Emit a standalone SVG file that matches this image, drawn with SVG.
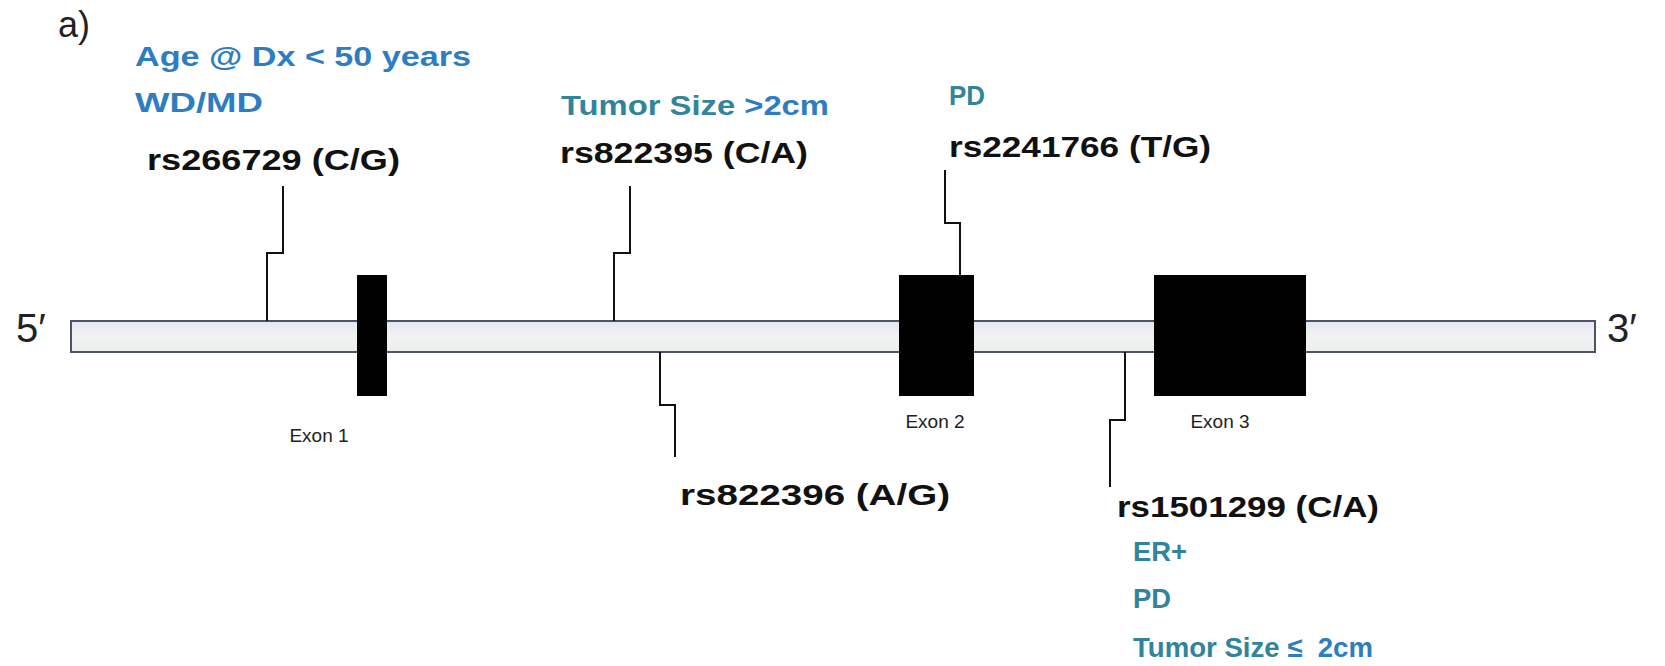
<svg xmlns="http://www.w3.org/2000/svg" width="1665" height="666" viewBox="0 0 1665 666">
<defs>
<linearGradient id="barGrad" x1="0" y1="0" x2="0" y2="1">
<stop offset="0" stop-color="#e3e7f5"/>
<stop offset="0.5" stop-color="#f2f2f2"/>
<stop offset="1" stop-color="#eceef0"/>
</linearGradient>
<style>
.snp{font-family:"Liberation Sans",Arial,sans-serif;font-weight:bold;font-size:30px;fill:#111}
.blue{font-family:"Liberation Sans",Arial,sans-serif;font-weight:bold;font-size:28px;fill:#2f7dc1}
.teal{font-family:"Liberation Sans",Arial,sans-serif;font-weight:bold;font-size:28px;fill:#31849b}
.exlab{font-family:"Liberation Sans",Arial,sans-serif;font-size:19px;fill:#222;text-anchor:middle}
.end{font-family:"Liberation Sans",Arial,sans-serif;font-size:40px;fill:#222}
.exon{fill:#000}
.conn{fill:none;stroke:#111;stroke-width:2}
</style>
</defs>
<rect width="1665" height="666" fill="#fff"/>
<text x="58" y="37" class="end" style="font-size:36px">a)</text>

<g id="backbone">
<rect x="71" y="321" width="1524" height="31" fill="url(#barGrad)" stroke="#4d5563" stroke-width="2"/>
<text x="16" y="342" class="end">5′</text>
<text x="1607" y="342" class="end">3′</text>
</g>

<g id="connectors">
<path class="conn" d="M267,321 V253 H283 V186"/>
<path class="conn" d="M614,321 V253 H630 V186"/>
<path class="conn" d="M960,275 V223 H945 V170"/>
<path class="conn" d="M660,352 V405 H675 V457"/>
<path class="conn" d="M1125,352 V420 H1110 V487"/>
</g>

<g id="exon1">
<rect class="exon" x="357" y="275" width="30" height="121"/>
<text x="319" y="442" class="exlab">Exon 1</text>
</g>
<g id="exon2">
<rect class="exon" x="899" y="275" width="75" height="121"/>
<text x="935" y="428" class="exlab">Exon 2</text>
</g>
<g id="exon3">
<rect class="exon" x="1154" y="275" width="152" height="121"/>
<text x="1220" y="428" class="exlab">Exon 3</text>
</g>

<g id="snp-rs266729">
<text x="135" y="66" class="blue" textLength="336" lengthAdjust="spacingAndGlyphs">Age @ Dx &lt; 50 years</text>
<text x="135" y="112" class="blue" textLength="128" lengthAdjust="spacingAndGlyphs">WD/MD</text>
<text x="147" y="170" class="snp" textLength="253" lengthAdjust="spacingAndGlyphs">rs266729 (C/G)</text>
</g>

<g id="snp-rs822395">
<text x="561" y="115" class="teal" textLength="268" lengthAdjust="spacingAndGlyphs">Tumor Size <tspan fill="#2f7dc1">&gt;2cm</tspan></text>
<text x="560" y="163" class="snp" textLength="248" lengthAdjust="spacingAndGlyphs">rs822395 (C/A)</text>
</g>

<g id="snp-rs2241766">
<text x="949" y="105" class="teal" textLength="36" lengthAdjust="spacingAndGlyphs">PD</text>
<text x="949" y="157" class="snp" textLength="262" lengthAdjust="spacingAndGlyphs">rs2241766 (T/G)</text>
</g>

<g id="snp-rs822396">
<text x="680" y="505" class="snp" textLength="270" lengthAdjust="spacingAndGlyphs">rs822396 (A/G)</text>
</g>

<g id="snp-rs1501299">
<text x="1117" y="517" class="snp" textLength="262" lengthAdjust="spacingAndGlyphs">rs1501299 (C/A)</text>
<text x="1133" y="561" class="teal" textLength="54" lengthAdjust="spacingAndGlyphs">ER+</text>
<text x="1133" y="608" class="teal" textLength="38" lengthAdjust="spacingAndGlyphs">PD</text>
<text x="1133" y="657" class="teal" style="white-space:pre" textLength="240" lengthAdjust="spacingAndGlyphs">Tumor Size <tspan fill="#2f7dc1">≤  2cm</tspan></text>
</g>
</svg>
